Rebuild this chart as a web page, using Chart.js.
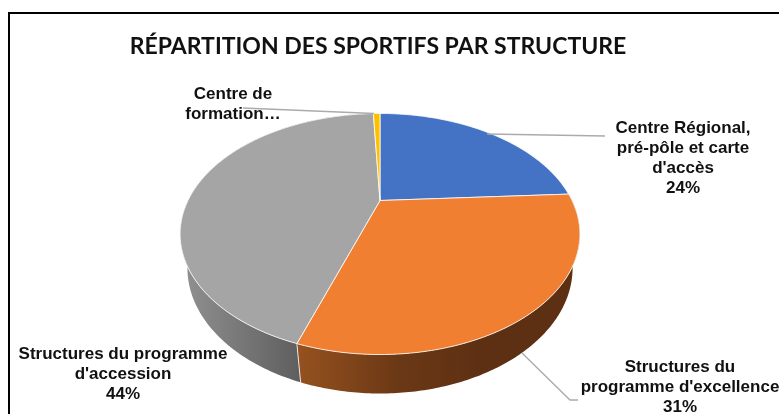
<!DOCTYPE html>
<html><head><meta charset="utf-8">
<style>
html,body{margin:0;padding:0;background:#fff;overflow:hidden}
#wrap{position:absolute;left:0;top:0;width:779px;height:414px}
#frame{position:absolute;left:8px;top:12px;right:0;bottom:0;border-top:2px solid #000;border-left:2px solid #000;box-sizing:border-box}
</style>
<script src="https://cdn.jsdelivr.net/npm/chart.js@4"></script>
</head><body>
<div id="wrap"><div id="frame"></div><canvas id="c" width="779" height="414"></canvas></div>
<script>
const titleText = "RÉPARTITION DES SPORTIFS PAR STRUCTURE";
const categories = ["Centre Régional, pré-pôle et carte d'accès","Structures du programme d'excellence","Structures du programme d'accession","Centre de formation…"];
const values = [24, 31, 44, 0.7];
const sliceColors = ["#4472C4", "#F07F31", "#A5A5A5", "#FFC000"];
const labelLines = [
  ["Centre Régional,", "pré-pôle et carte", "d'accès", "24%"],
  ["Structures du", "programme d'excellence", "31%"],
  ["Structures du programme", "d'accession", "44%"],
  ["Centre de", "formation…"]
];

// Perspective view of the pie disc
const view = {cx:380, cy:200.5, A:192, B:111.2, k:0.278, C:34.9, m:0.035};
function project(a, drop){
  const u=Math.cos(a), v=Math.sin(a), w=1-view.k*v+(drop?view.m:0);
  return {x:view.cx+view.A*u/w, y:view.cy+(view.B*v+(drop?view.C:0))/w};
}
const wallStops = [
  null,
  [[296,"#96521f"],[400,"#6a3815"],[480,"#5e3013"],[580,"#5e3013"]],
  [[180,"#929292"],[230,"#7c7c7c"],[301,"#5e5e5e"]],
  null
];
const labelSpots = [[683,128],[680,367],[123,354],[233,94]];
const leaders = [
  [[487,134],[605,136]],
  [[522,353],[570,400],[578,400]],
  [],
  [[243,108],[374,113.5]]
];

const pie3d = {
  id:'pie3d',
  beforeDatasetDraw(chart){
    const ctx=chart.ctx, arcs=chart.getDatasetMeta(0).data;
    ctx.save();
    // side wall
    arcs.forEach((arc,i)=>{
      const stops=wallStops[i]; if(!stops) return;
      const g=ctx.createLinearGradient(stops[0][0],0,stops[stops.length-1][0],0);
      const x0=stops[0][0], x1=stops[stops.length-1][0];
      stops.forEach(s=>g.addColorStop((s[0]-x0)/(x1-x0),s[1]));
      ctx.beginPath();
      const n=160;
      for(let j=0;j<=n;j++){const p=project(arc.startAngle+(arc.endAngle-arc.startAngle)*j/n,false); j?ctx.lineTo(p.x,p.y):ctx.moveTo(p.x,p.y);}
      for(let j=n;j>=0;j--){const p=project(arc.startAngle+(arc.endAngle-arc.startAngle)*j/n,true); ctx.lineTo(p.x,p.y);}
      ctx.closePath();
      ctx.fillStyle=g; ctx.fill();
    });
    // seam between the two visible walls
    const seam=arcs[1].endAngle, s0=project(seam,false), s1=project(seam,true);
    ctx.strokeStyle="rgba(255,255,255,.8)"; ctx.lineWidth=1;
    ctx.beginPath(); ctx.moveTo(s0.x,s0.y); ctx.lineTo(s1.x,s1.y); ctx.stroke();
    // top face
    arcs.forEach((arc,i)=>{
      ctx.beginPath(); ctx.moveTo(view.cx,view.cy);
      const n=120;
      for(let j=0;j<=n;j++){const p=project(arc.startAngle+(arc.endAngle-arc.startAngle)*j/n,false); ctx.lineTo(p.x,p.y);}
      ctx.closePath();
      ctx.fillStyle=arc.options.backgroundColor; ctx.fill();
      ctx.strokeStyle="rgba(255,255,255,.8)"; ctx.lineWidth=1; ctx.lineJoin='round'; ctx.stroke();
    });
    ctx.restore();
    return false;
  },
  afterDraw(chart){
    const ctx=chart.ctx;
    ctx.save();
    ctx.strokeStyle="#ABABAB"; ctx.lineWidth=1.4;
    leaders.forEach(l=>{ if(!l.length) return; ctx.beginPath(); l.forEach((p,j)=>j?ctx.lineTo(p[0],p[1]):ctx.moveTo(p[0],p[1])); ctx.stroke(); });
    ctx.fillStyle="#111"; ctx.font='bold 17px "Liberation Sans"'; ctx.textAlign='center'; ctx.textBaseline='middle';
    labelLines.forEach((ls,i)=>ls.forEach((t,j)=>ctx.fillText(t,labelSpots[i][0],labelSpots[i][1]+j*20)));
    ctx.restore();
  }
};

new Chart(document.getElementById('c'),{
  type:'pie',
  data:{labels:categories,datasets:[{data:values,backgroundColor:sliceColors,borderWidth:0}]},
  options:{
    responsive:false,animation:false,
    layout:{padding:{top:33,right:23}},
    plugins:{
      legend:{display:false},tooltip:{enabled:false},
      title:{display:true,text:titleText,fullSize:false,color:"#111",font:{family:'Lato',weight:'bold',size:23},padding:{top:0,bottom:0}}
    }
  },
  plugins:[pie3d]
});
</script>
</body></html>
